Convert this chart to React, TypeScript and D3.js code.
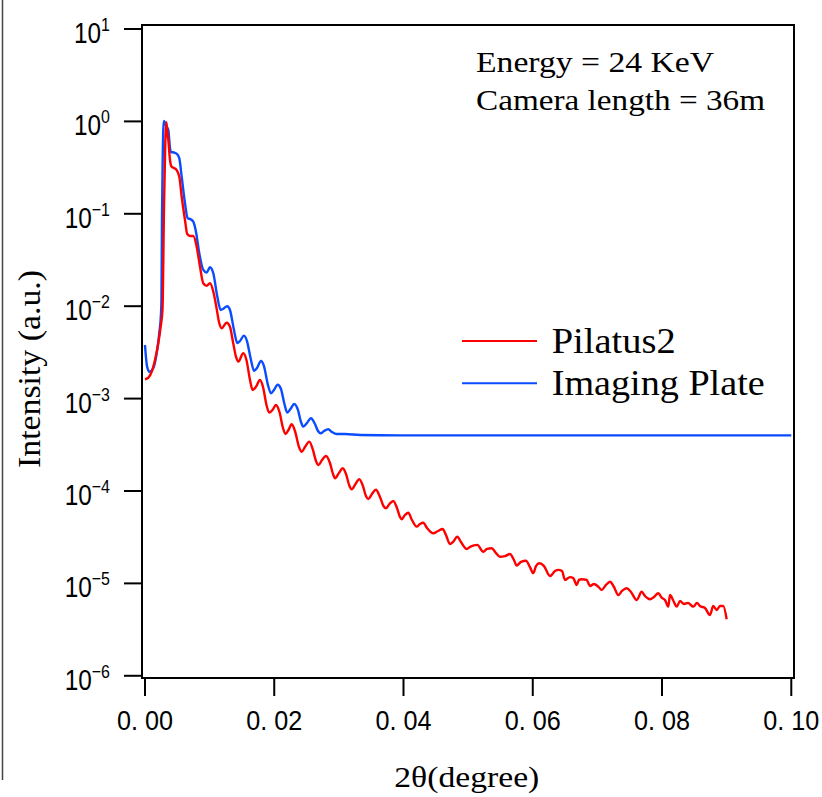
import React from "react";
import * as d3 from "d3";

// 2θ (degree), intensity (a.u.)
const pilatus2: [number, number][] = [
  [0, 1.62e-3], [0.00051, 1.68e-3], [0.00104, 1.95e-3], [0.00155, 2.62e-3], [0.00206, 3.97e-3],
  [0.00243, 6.0e-3], [0.00271, 9.1e-3], [0.00294, 0.11], [0.00314, 0.584], [0.0033, 0.98],
  [0.00345, 0.787], [0.00361, 0.629], [0.00387, 0.382], [0.00413, 0.323], [0.00449, 0.313],
  [0.0048, 0.303], [0.00531, 0.252], [0.00568, 0.153], [0.00619, 8.57e-2], [0.00654, 6.04e-2],
  [0.00696, 5.75e-2], [0.00747, 5.75e-2], [0.008, 4.41e-2], [0.00851, 2.68e-2], [0.00902, 1.77e-2],
  [0.00955, 1.66e-2], [0.01006, 1.77e-2], [0.01057, 1.44e-2], [0.01099, 1.03e-2], [0.0115, 6.53e-3],
  [0.01187, 5.77e-3], [0.01264, 6.63e-3], [0.01315, 6.0e-3], [0.01362, 4.1e-3], [0.01408, 2.84e-3],
  [0.01444, 2.51e-3], [0.01521, 3.09e-3], [0.0157, 2.62e-3], [0.01625, 1.59e-3], [0.01666, 1.24e-3],
  [0.01717, 1.34e-3], [0.01779, 1.59e-3], [0.01826, 1.34e-3], [0.0188, 8.53e-4], [0.01923, 7.04e-4],
  [0.01973, 7.53e-4], [0.02027, 8.53e-4], [0.02081, 7.16e-4], [0.02135, 4.81e-4], [0.02174, 4.14e-4],
  [0.0222, 4.57e-4], [0.0227, 5.27e-4], [0.02321, 4.46e-4], [0.02383, 2.99e-4], [0.02425, 2.66e-4],
  [0.02476, 2.99e-4], [0.02542, 3.42e-4], [0.02599, 2.78e-4], [0.02646, 2.11e-4], [0.02685, 1.91e-4],
  [0.02739, 2.16e-4], [0.02801, 2.39e-4], [0.02862, 2.01e-4], [0.02909, 1.53e-4], [0.0294, 1.37e-4],
  [0.03002, 1.57e-4], [0.03059, 1.76e-4], [0.0311, 1.53e-4], [0.03164, 1.13e-4], [0.03198, 1.04e-4],
  [0.03257, 1.19e-4], [0.03316, 1.34e-4], [0.03373, 1.13e-4], [0.03419, 8.83e-5], [0.03455, 8.19e-5],
  [0.03512, 9.29e-5], [0.03574, 1.03e-4], [0.03636, 8.61e-5], [0.0369, 6.88e-5], [0.03729, 6.5e-5],
  [0.03783, 7.23e-5], [0.03842, 7.8e-5], [0.03899, 6.55e-5], [0.03946, 5.23e-5], [0.03972, 4.94e-5],
  [0.04023, 5.5e-5], [0.04074, 5.82e-5], [0.04131, 4.85e-5], [0.04204, 4.11e-5], [0.04255, 4.4e-5],
  [0.04306, 4.54e-5], [0.04363, 3.98e-5], [0.04461, 3.48e-5], [0.04534, 3.69e-5], [0.04606, 3.88e-5],
  [0.04657, 3.34e-5], [0.04719, 2.67e-5], [0.04766, 2.81e-5], [0.04832, 3.2e-5], [0.04889, 2.81e-5],
  [0.04978, 2.36e-5], [0.05029, 2.48e-5], [0.05142, 2.61e-5], [0.05234, 2.2e-5], [0.05292, 2.36e-5],
  [0.05364, 2.4e-5], [0.05431, 2.13e-5], [0.05493, 1.94e-5], [0.0557, 1.97e-5], [0.05648, 2.08e-5],
  [0.05709, 1.79e-5], [0.05751, 1.56e-5], [0.05818, 1.71e-5], [0.05895, 1.76e-5], [0.05957, 1.5e-5],
  [0.06008, 1.29e-5], [0.0605, 1.54e-5], [0.06101, 1.65e-5], [0.06174, 1.54e-5], [0.06267, 1.2e-5],
  [0.06344, 1.36e-5], [0.06395, 1.4e-5], [0.06452, 1.36e-5], [0.06499, 1.09e-5], [0.06576, 1.17e-5],
  [0.06627, 1.14e-5], [0.0668, 9.61e-6], [0.06715, 1.09e-5], [0.06757, 1.11e-5], [0.06834, 1.09e-5],
  [0.06885, 9.37e-6], [0.06947, 9.86e-6], [0.07014, 9.21e-6], [0.07066, 8.49e-6], [0.07133, 9.61e-6],
  [0.07195, 1.04e-5], [0.07257, 9.14e-6], [0.07323, 7.48e-6], [0.07381, 8.28e-6], [0.07453, 8.85e-6],
  [0.0752, 8.07e-6], [0.07608, 6.61e-6], [0.07685, 8.13e-6], [0.07736, 7.31e-6], [0.07814, 6.73e-6],
  [0.07876, 7.13e-6], [0.07942, 7.82e-6], [0.07999, 6.95e-6], [0.08046, 6.61e-6], [0.08097, 5.6e-6],
  [0.08123, 7.48e-6], [0.0817, 6.61e-6], [0.08227, 5.6e-6], [0.08278, 6.45e-6], [0.0834, 5.98e-6],
  [0.08402, 6.14e-6], [0.08484, 5.6e-6], [0.08541, 6.14e-6], [0.08587, 5.69e-6], [0.08665, 5.42e-6],
  [0.08742, 4.55e-6], [0.08793, 5.69e-6], [0.08846, 5.15e-6], [0.08897, 5.69e-6], [0.08948, 5.69e-6],
  [0.09, 4.09e-6],
];

const imagingPlate: [number, number][] = [
  [0, 3.8e-3], [0.00031, 2.25e-3], [0.00067, 1.95e-3], [0.00128, 2.13e-3], [0.00181, 3.09e-3],
  [0.00221, 5.09e-3], [0.00248, 8.38e-3], [0.00255, 1.17e-2], [0.00263, 8.57e-2], [0.00274, 0.382],
  [0.00283, 0.807], [0.00294, 1.01], [0.00309, 0.961], [0.0033, 0.892], [0.00361, 0.807],
  [0.00387, 0.515], [0.00402, 0.466], [0.00449, 0.461], [0.00495, 0.444], [0.00531, 0.399],
  [0.00568, 0.252], [0.00619, 0.13], [0.00661, 8.94e-2], [0.00707, 8.72e-2], [0.00747, 8.22e-2],
  [0.00789, 6.4e-2], [0.0084, 3.74e-2], [0.00902, 2.47e-2], [0.00955, 2.31e-2], [0.01006, 2.64e-2],
  [0.01057, 2.27e-2], [0.01119, 1.27e-2], [0.01171, 9.1e-3], [0.01207, 9.33e-3], [0.01273, 1.0e-2],
  [0.01315, 9.1e-3], [0.01377, 5.53e-3], [0.01428, 4.0e-3], [0.0147, 4.2e-3], [0.01532, 4.8e-3],
  [0.01578, 4.2e-3], [0.0164, 2.62e-3], [0.01687, 2.0e-3], [0.01733, 2.14e-3], [0.01795, 2.55e-3],
  [0.01841, 2.25e-3], [0.01903, 1.4e-3], [0.0195, 1.14e-3], [0.01996, 1.24e-3], [0.02053, 1.41e-3],
  [0.02104, 1.27e-3], [0.02158, 8.74e-4], [0.02202, 7.04e-4], [0.02251, 7.71e-4], [0.0231, 8.74e-4],
  [0.02367, 7.53e-4], [0.02414, 5.58e-4], [0.02449, 4.97e-4], [0.02507, 5.45e-4], [0.02568, 6.12e-4],
  [0.0263, 5.31e-4], [0.02677, 4.46e-4], [0.02719, 4.21e-4], [0.0277, 4.46e-4], [0.02836, 4.65e-4],
  [0.02893, 4.35e-4], [0.02966, 4.14e-4], [0.03095, 4.14e-4], [0.03327, 4.04e-4], [0.03946, 4.0e-4],
  [0.05, 4.0e-4], [0.06, 4.0e-4], [0.07, 4.0e-4], [0.08, 4.0e-4], [0.09, 4.0e-4], [0.1, 4.0e-4],
];

const xTicks = [0, 0.02, 0.04, 0.06, 0.08, 0.1];
const xTickLabels = ["0. 00", "0. 02", "0. 04", "0. 06", "0. 08", "0. 10"];
const yTickExponents = [1, 0, -1, -2, -3, -4, -5, -6];

const seriesNames = ["Pilatus2", "Imaging Plate"];
const seriesColors = ["#ff0000", "#0a4cff"];
const annotationLines = ["Energy = 24 KeV", "Camera length = 36m"];

export default function App() {
  const x = d3.scaleLinear().domain([-0.00046, 0.10042]).range([142, 794]);
  const y = d3.scaleLog().domain([Math.pow(10, -6.024), Math.pow(10, 1.0433)]).range([678, 25]);
  const line = d3
    .line<[number, number]>()
    .x((d) => x(d[0]))
    .y((d) => y(d[1]))
    .curve(d3.curveMonotoneX);

  const serif = "'Liberation Serif', 'Times New Roman', serif";
  const sans = "'Liberation Sans', Arial, sans-serif";

  return (
    <svg
      width={822}
      height={797}
      style={{ position: "absolute", left: 0, top: 0, background: "#fff" }}
    >
      <rect x={0} y={0} width={822} height={797} fill="#fff" />
      <line x1={2.5} y1={0} x2={2.5} y2={780} stroke="#444" strokeWidth={1.5} />

      {/* data */}
      <path d={line(imagingPlate) || ""} fill="none" stroke={seriesColors[1]} strokeWidth={2.4} strokeLinejoin="round" />
      <path d={line(pilatus2) || ""} fill="none" stroke={seriesColors[0]} strokeWidth={2.4} strokeLinejoin="round" />

      {/* frame */}
      <rect x={142} y={25} width={652} height={653} fill="none" stroke="#000" strokeWidth={2} />

      {/* y ticks */}
      {yTickExponents.map((e) => {
        const yy = y(Math.pow(10, e));
        return (
          <g key={"y" + e}>
            <line x1={124} x2={142} y1={yy} y2={yy} stroke="#000" strokeWidth={2} />
            <g transform={`translate(110,${yy + 14}) scale(0.84,1)`}>
              <text x={0} y={0} textAnchor="end" fontFamily={sans} fontSize={29} fill="#000">
                <tspan>10</tspan>
                <tspan fontSize={19} dy={-12}>
                  {e < 0 ? "\u2212" + Math.abs(e) : String(e)}
                </tspan>
              </text>
            </g>
          </g>
        );
      })}

      {/* x ticks */}
      {xTicks.map((v, i) => {
        const xx = x(v);
        return (
          <g key={"x" + i}>
            <line x1={xx} x2={xx} y1={678} y2={696} stroke="#000" strokeWidth={2} />
            <text
              x={xx}
              y={730}
              textAnchor="middle"
              fontFamily={sans}
              fontSize={27}
              textLength={56}
              lengthAdjust="spacingAndGlyphs"
              fill="#000"
            >
              {xTickLabels[i]}
            </text>
          </g>
        );
      })}

      {/* axis titles */}
      <text
        x={466.8}
        y={786.5}
        textAnchor="middle"
        fontFamily={serif}
        fontSize={30}
        textLength={145}
        lengthAdjust="spacingAndGlyphs"
        fill="#000"
      >
        2θ(degree)
      </text>
      <text
        transform="translate(39.5,369) rotate(-90)"
        textAnchor="middle"
        fontFamily={serif}
        fontSize={31}
        textLength={198}
        lengthAdjust="spacingAndGlyphs"
        fill="#000"
      >
        Intensity (a.u.)
      </text>

      {/* annotation */}
      <text x={476} y={72.3} fontFamily={serif} fontSize={30} textLength={238} lengthAdjust="spacingAndGlyphs" fill="#000">
        {annotationLines[0]}
      </text>
      <text x={476} y={110} fontFamily={serif} fontSize={30} textLength={289} lengthAdjust="spacingAndGlyphs" fill="#000">
        {annotationLines[1]}
      </text>

      {/* legend */}
      <line x1={462} x2={537} y1={341} y2={341} stroke={seriesColors[0]} strokeWidth={2} />
      <text x={551.7} y={352.7} fontFamily={serif} fontSize={36} textLength={124} lengthAdjust="spacingAndGlyphs" fill="#000">
        {seriesNames[0]}
      </text>
      <line x1={462} x2={537} y1={383.3} y2={383.3} stroke={seriesColors[1]} strokeWidth={2} />
      <text x={551.7} y={395} fontFamily={serif} fontSize={36} textLength={213} lengthAdjust="spacingAndGlyphs" fill="#000">
        {seriesNames[1]}
      </text>
    </svg>
  );
}
